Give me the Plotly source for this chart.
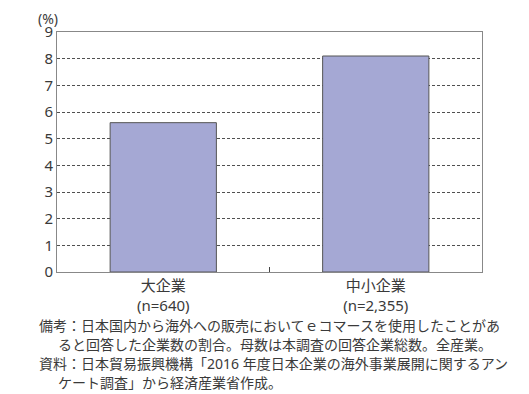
import plotly.graph_objects as go

categories = ["大企業<br>(n=640)", "中小企業<br>(n=2,355)"]
values = [5.6, 8.1]
y_ticks = list(range(0, 10))
y_unit = "(%)"
notes = [
    "備考：日本国内から海外への販売においてｅコマースを使用したことがあ",
    "ると回答した企業数の割合。母数は本調査の回答企業総数。全産業。",
    "資料：日本貿易振興機構「2016 年度日本企業の海外事業展開に関するアン",
    "ケート調査」から経済産業省作成。",
]

FONT = "Noto Sans, Noto Sans CJK JP"
TXT = "#3a3a3a"

# page has an 8px body margin; work in reference pixel coords and shift
OFF = 8
W, H = 529 - OFF, 394 - OFF
PX0, PX1, PY0, PY1 = 57 - OFF, 482 - OFF, 32 - OFF, 272 - OFF
L, R, T, B = PX0, W - PX1, PY0, H - PY1
plot_w = PX1 - PX0
plot_h = PY1 - PY0


def px(rx):
    return (rx - OFF - PX0) / plot_w


def py(ry):
    return (PY1 - (ry - OFF)) / plot_h


fig = go.Figure()
fig.add_trace(go.Bar(
    x=categories, y=values,
    marker=dict(color="#a5a8d4", line=dict(color="#555555", width=1)),
    width=0.5,
))

fig.update_layout(
    width=W, height=H,
    margin=dict(l=L, r=R, t=T, b=B, pad=0),
    paper_bgcolor="white", plot_bgcolor="white",
    showlegend=False,
    font=dict(family=FONT, size=14, color=TXT),
    xaxis=dict(
        type="category",
        showline=True, mirror=True, linecolor="#888888", linewidth=1,
        ticks="inside", tickson="boundaries", ticklen=5, tickcolor="#444444",
        tickfont=dict(family=FONT, size=15, color=TXT),
        showgrid=False,
    ),
    yaxis=dict(
        range=[0, 9], tickvals=y_ticks, ticks="",
        showline=True, mirror=True, linecolor="#888888", linewidth=1,
        showgrid=True, gridcolor="#505050", griddash="3px,2px", gridwidth=1,
        tickfont=dict(family=FONT, size=15, color=TXT),
        zeroline=False,
    ),
)

fig.add_annotation(text=y_unit, xref="paper", yref="paper",
                   x=px(48), y=py(8), borderpad=0,
                   showarrow=False, xanchor="center", yanchor="top",
                   font=dict(family=FONT, size=14, color=TXT))

note_x = [37, 56, 37, 56]
note_y = [325, 344, 363, 382]
for txt, nx, ny in zip(notes, note_x, note_y):
    fig.add_annotation(text=txt, xref="paper", yref="paper",
                       x=px(nx), y=py(ny),
                       showarrow=False, xanchor="left", yanchor="middle",
                       font=dict(family=FONT, size=14, color=TXT))

fig.write_html("out.html")
